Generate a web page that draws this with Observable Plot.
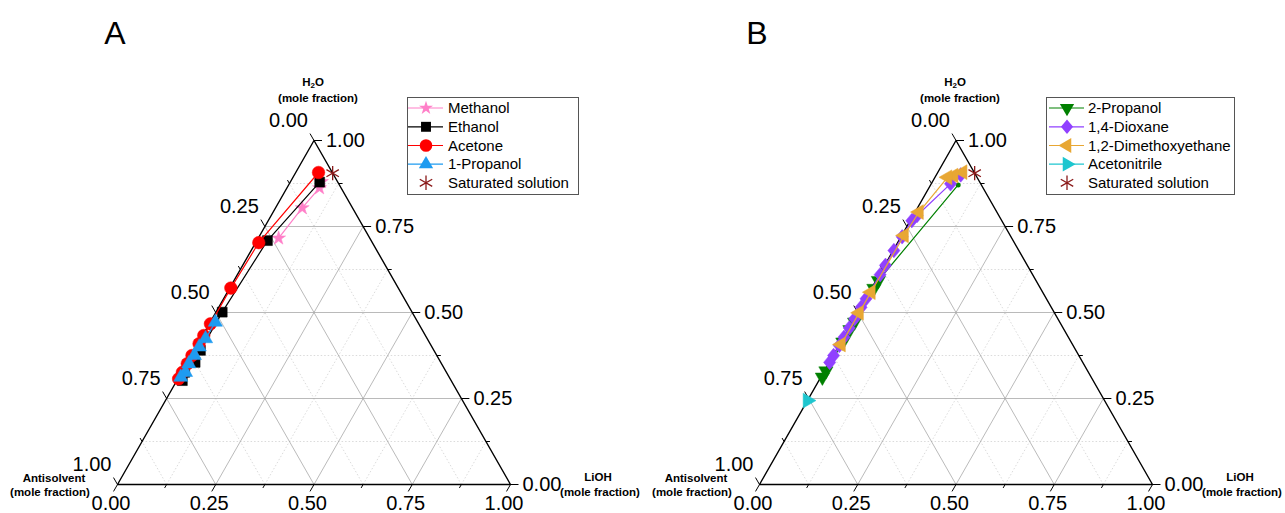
<!DOCTYPE html>
<html><head><meta charset="utf-8">
<script src="https://cdn.jsdelivr.net/npm/d3@7"></script>
<script src="https://cdn.jsdelivr.net/npm/@observablehq/plot@0.6"></script>
<style>
body{margin:0;background:#fff;font-family:"Liberation Sans",Arial,sans-serif;}
#wrap{position:relative;width:1285px;height:513px;overflow:hidden;background:#fff;}
.pan{position:absolute;top:0;}
.ttl{position:absolute;font-weight:bold;font-size:11.5px;white-space:nowrap;transform:translate(-50%,-50%);line-height:1;color:#000;}
.ttl sub{font-size:8px;vertical-align:-2px;line-height:0;}
.big{position:absolute;font-size:32px;transform:translate(-50%,-50%);line-height:1;color:#000;}
#leg{position:absolute;left:0;top:0;pointer-events:none;}
</style></head><body><div id="wrap"></div><script>
// ---------- DATA (ternary mole fractions: H = H2O, L = LiOH, antisolvent = 1 - H - L) ----------
const methanolH = [0.880, 0.862, 0.804, 0.716];
const methanolL = [0.079, 0.083, 0.068, 0.052];
const ethanolH  = [0.879, 0.709, 0.501, 0.390, 0.355, 0.326, 0.302];
const ethanolL  = [0.075, 0.027, 0.016, 0.016, 0.020, 0.008, 0.014];
const acetoneH  = [0.907, 0.703, 0.571, 0.467, 0.433, 0.409, 0.375, 0.351, 0.326, 0.307];
const acetoneL  = [0.058, 0.008, 0.003, 0.003, 0.003, 0.003, 0.002, 0.002, 0.002, 0.002];
const propanol1H = [0.472, 0.424, 0.400, 0.375, 0.351, 0.326, 0.312];
const propanol1L = [0.013, 0.012, 0.008, 0.008, 0.006, 0.010, 0.005];

const propanol2H = [0.871, 0.593, 0.570, 0.472, 0.450, 0.414, 0.330, 0.312];
const propanol2L = [0.070, 0.006, 0.006, 0.006, 0.005, 0.005, 0.004, 0.004];
const dioxaneH = [0.900, 0.874, 0.782, 0.767, 0.720, 0.680, 0.637, 0.610, 0.540, 0.515, 0.482, 0.455, 0.428, 0.404, 0.375, 0.355];
const dioxaneL = [0.062, 0.049, 0.010, 0.004, 0.003, 0.002, 0.002, 0.002, 0.001, 0.001, 0.001, 0.001, 0.001, 0.001, 0.001, 0.001];
const dmeH = [0.908, 0.898, 0.893, 0.792, 0.724, 0.559, 0.499, 0.407];
const dmeL = [0.063, 0.045, 0.032, 0.010, 0.006, 0.004, 0.004, 0.004];
const acetonitrileH = [0.244];
const acetonitrileL = [0.000];

const saturatedH = [0.905];
const saturatedL = [0.095];

const tickValues = [0, 0.125, 0.25, 0.375, 0.5, 0.625, 0.75, 0.875, 1];
const labelValues = [0, 0.25, 0.5, 0.75, 1];
const legendA = ["Methanol", "Ethanol", "Acetone", "1-Propanol", "Saturated solution"];
const legendB = ["2-Propanol", "1,4-Dioxane", "1,2-Dimethoxyethane", "Acetonitrile", "Saturated solution"];

// ---------- symbols ----------
function rotTri(angle){
  return {draw(ctx, size){
    const y = -Math.sqrt(size/(Math.sqrt(3)*3));
    const pts = [[0,2*y],[-Math.sqrt(3)*y,-y],[Math.sqrt(3)*y,-y]];
    const c = Math.cos(angle), s = Math.sin(angle);
    pts.forEach(([px,py],i)=>{const X=px*c-py*s, Y=px*s+py*c; if(i) ctx.lineTo(X,Y); else ctx.moveTo(X,Y);});
    ctx.closePath();
  }};
}
const symDown = rotTri(Math.PI), symLeft = rotTri(-Math.PI/2), symRight = rotTri(Math.PI/2);
const symDiamond = {draw(ctx,size){const a=Math.sqrt(size/2.4), b=1.2*a; ctx.moveTo(0,-b); ctx.lineTo(a,0); ctx.lineTo(0,b); ctx.lineTo(-a,0); ctx.closePath();}};

const seriesA = [
  {name:"Methanol", H:methanolH, L:methanolL, color:"#FF7FC8", symbol:d3.symbolStar, r:4.4},
  {name:"Ethanol", H:ethanolH, L:ethanolL, color:"#000000", symbol:d3.symbolSquare, r:5.6},
  {name:"Acetone", H:acetoneH, L:acetoneL, color:"#FF0000", symbol:d3.symbolCircle, r:6.3},
  {name:"1-Propanol", H:propanol1H, L:propanol1L, color:"#1E9BF0", symbol:d3.symbolTriangle, r:5.3}
];
const seriesB = [
  {name:"2-Propanol", H:propanol2H, L:propanol2L, color:"#008000", symbol:symDown, r:5.3, firstSmall:true},
  {name:"1,4-Dioxane", H:dioxaneH, L:dioxaneL, color:"#9040FF", symbol:symDiamond, r:5.3},
  {name:"1,2-Dimethoxyethane", H:dmeH, L:dmeL, color:"#E8A733", symbol:symLeft, r:5.5},
  {name:"Acetonitrile", H:acetonitrileH, L:acetonitrileL, color:"#1EC6CF", symbol:symRight, r:5.5}
];
const SAT_COLOR = "#8B1A1A";

// ---------- layout ----------
const H = 513, ML = 117, MT = 140, MB = 29, PX = 393, PY = H - MT - MB;
const FONT = "'Liberation Sans', Arial, sans-serif";

function tern(h, l){ return {x: l + h/2, y: h}; }

function makePanel(series, width){
  const MR = width - ML - PX;
  const gridMajor = [], gridMinor = [];
  tickValues.slice(1, -1).forEach((c, i) => {
    const arr = (i % 2 === 1) ? gridMajor : gridMinor;
    arr.push({x1:c/2, y1:c, x2:1-c/2, y2:c});            // constant H2O
    arr.push({x1:c, y1:0, x2:(1+c)/2, y2:1-c});          // constant LiOH
    arr.push({x1:1-c, y1:0, x2:(1-c)/2, y2:1-c});        // constant antisolvent
  });
  const outline = [{x:0,y:0},{x:1,y:0},{x:0.5,y:1},{x:0,y:0}];
  const ticks = [];
  tickValues.forEach((t, i) => {
    const len = (i % 2 === 0) ? 8 : 4;
    ticks.push({x1:1-t/2, y1:t, x2:1-t/2+len/PX, y2:t});
    ticks.push({x1:(1-t)/2, y1:1-t, x2:(1-t)/2-0.5*len/PX, y2:1-t+0.866*len/PY});
    ticks.push({x1:t, y1:0, x2:t-0.5*len/PX, y2:-0.866*len/PY});
  });
  const labR = labelValues.map(t => ({x:1-t/2, y:t, text:t.toFixed(2)}));
  const labL = labelValues.map(t => ({x:(1-t)/2, y:1-t, text:t.toFixed(2)}));
  const labB = labelValues.map(t => ({x:t, y:0, text:t.toFixed(2)}));

  const marks = [
    Plot.link(gridMinor, {x1:"x1", y1:"y1", x2:"x2", y2:"y2", stroke:"#cccccc", strokeWidth:0.7, strokeDasharray:"1.5,2"}),
    Plot.link(gridMajor, {x1:"x1", y1:"y1", x2:"x2", y2:"y2", stroke:"#a8a8a8", strokeWidth:0.8}),
    Plot.line(outline, {x:"x", y:"y", stroke:"#000", strokeWidth:1.4}),
    Plot.link(ticks, {x1:"x1", y1:"y1", x2:"x2", y2:"y2", stroke:"#000", strokeWidth:1}),
    Plot.text(labR, {x:"x", y:"y", text:"text", textAnchor:"start", dx:12, fontSize:20, fill:"#000"}),
    Plot.text(labL, {x:"x", y:"y", text:"text", textAnchor:"end", dx:-6, dy:-20, fontSize:20, fill:"#000"}),
    Plot.text(labB, {x:"x", y:"y", text:"text", textAnchor:"middle", dx:-6.5, dy:19, fontSize:20, fill:"#000"})
  ];
  series.forEach(s => {
    const rows = s.H.map((h, i) => tern(h, s.L[i]));
    marks.push(Plot.line(rows, {x:"x", y:"y", stroke:s.color, strokeWidth:1.2}));
    const big = s.firstSmall ? rows.slice(1) : rows;
    if (s.firstSmall) marks.push(Plot.dot(rows.slice(0, 1), {x:"x", y:"y", symbol:"circle", r:2.5, fill:s.color}));
    marks.push(Plot.dot(big, {x:"x", y:"y", symbol:s.symbol, r:s.r, fill:s.color, stroke:s.color, strokeWidth:0.5}));
  });
  const sat = saturatedH.map((h, i) => tern(h, saturatedL[i]));
  marks.push(Plot.dot(sat, {x:"x", y:"y", symbol:d3.symbolAsterisk, r:6.8, fill:"none", stroke:SAT_COLOR, strokeWidth:1.3}));

  return Plot.plot({
    width, height:H, marginLeft:ML, marginRight:MR, marginTop:MT, marginBottom:MB,
    x:{domain:[0,1], axis:null}, y:{domain:[0,1], axis:null},
    style:{fontFamily:FONT, background:"transparent", overflow:"visible"},
    marks
  });
}

const wrap = document.getElementById("wrap");
[[seriesA, 0, 642], [seriesB, 642, 643]].forEach(([s, left, w]) => {
  const p = makePanel(s, w);
  p.classList.add("pan");
  p.style.left = left + "px";
  wrap.appendChild(p);
});

// titles
function addTtl(html, x, y, cls){ const d=document.createElement("div"); d.className=cls||"ttl"; d.innerHTML=html; d.style.left=x+"px"; d.style.top=y+"px"; wrap.appendChild(d); }
[0, 642].forEach((o, k) => {
  addTtl("H<sub>2</sub>O", 313+o, 83);
  addTtl("(mole fraction)", 318+o, 99);
  addTtl("Antisolvent", 54+o, 479);
  addTtl("(mole fraction)", 50+o, 493);
  addTtl("LiOH", 598+o, 478);
  addTtl("(mole fraction)", 600+o, 493);
  addTtl(k ? "B" : "A", 115+o, 33, "big");
});

// legends
const leg = d3.select(wrap).append("svg").attr("id","leg").attr("width",1285).attr("height",513);
function drawLegend(series, names, box, lx1, lx2, mx, tx){
  const g = leg.append("g");
  g.append("rect").attr("x",box[0]+0.5).attr("y",box[1]+0.5).attr("width",box[2]).attr("height",box[3])
    .attr("fill","#fff").attr("stroke","#555").attr("stroke-width",1);
  const rowsY = [108, 126.8, 145.5, 164.2, 182.8];
  names.forEach((n, i) => {
    const y = rowsY[i];
    const s = series[i];
    if (s) {
      g.append("line").attr("x1",lx1).attr("x2",lx2).attr("y1",y).attr("y2",y).attr("stroke",s.color).attr("stroke-width",1.2);
      g.append("path").attr("transform",`translate(${mx},${y})`).attr("d", d3.symbol(s.symbol, Math.PI*s.r*s.r)()).attr("fill",s.color);
    } else {
      g.append("path").attr("transform",`translate(${mx},${y})`).attr("d", d3.symbol(d3.symbolAsterisk, Math.PI*6.8*6.8)())
        .attr("fill","none").attr("stroke",SAT_COLOR).attr("stroke-width",1.3);
    }
    g.append("text").attr("x",tx).attr("y",y).attr("dy","0.35em").attr("font-size",15).attr("font-family",FONT).attr("fill","#000").text(n);
  });
}
drawLegend(seriesA, legendA, [407, 97, 171, 97], 408, 443, 426, 448);
drawLegend(seriesB, legendB, [1046, 97, 188, 97], 1049, 1084, 1067, 1088);
</script></body></html>
